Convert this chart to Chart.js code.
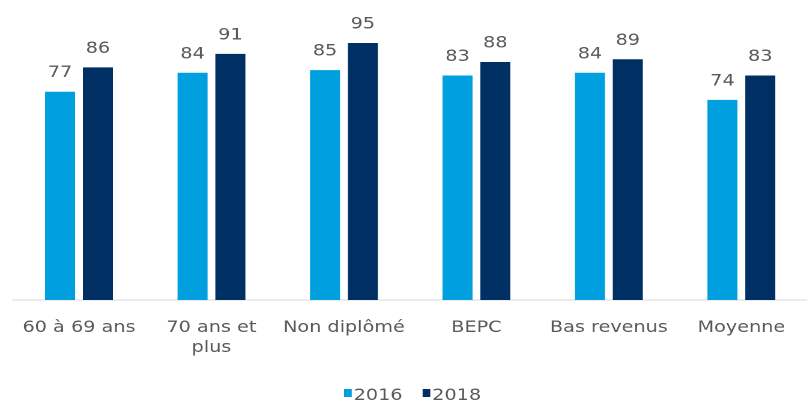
<!DOCTYPE html>
<html>
<head>
<meta charset="utf-8">
<script src="https://cdn.jsdelivr.net/npm/chart.js@4"></script>
<style>
  html, body { margin: 0; padding: 0; background: #ffffff; overflow: hidden; }
  #wrap { position: absolute; left: 0; top: 0; width: 672.5px; height: 401px; transform: scaleX(1.2); transform-origin: 0 0; }
</style>
</head>
<body>
<div id="wrap"><canvas id="c"></canvas></div>
<script>
const categories = ['60 à 69 ans', ['70 ans et', 'plus'], 'Non diplômé', 'BEPC', 'Bas revenus', 'Moyenne'];
const seriesNames = ['2016', '2018'];
const values2016 = [77, 84, 85, 83, 84, 74];
const values2018 = [86, 91, 95, 88, 89, 83];
const seriesColors = ['#009fe0', '#003063'];

const FONT = 'DejaVu Sans';
const TEXT = '#595959';
Chart.defaults.font.family = FONT;

const valueLabels = {
  id: 'valueLabels',
  afterDatasetsDraw(chart) {
    const ctx = chart.ctx;
    ctx.save();
    ctx.font = '16px "' + FONT + '"';
    ctx.fillStyle = TEXT;
    ctx.textAlign = 'center';
    ctx.textBaseline = 'alphabetic';
    chart.data.datasets.forEach((ds, i) => {
      const meta = chart.getDatasetMeta(i);
      meta.data.forEach((el, j) => {
        ctx.fillText(String(ds.data[j]), el.x, el.y - 14.5);
      });
    });
    ctx.restore();
  }
};

const bottomLegend = {
  id: 'bottomLegend',
  afterDraw(chart) {
    const ctx = chart.ctx;
    const area = chart.chartArea;
    ctx.save();
    ctx.font = '16px "' + FONT + '"';
    ctx.textBaseline = 'alphabetic';
    ctx.textAlign = 'left';
    const boxW = 6.4, boxH = 8, gap = 1.6, spacing = 16.7;
    const items = chart.data.datasets.map(ds => ({ label: ds.label, color: ds.backgroundColor, w: ctx.measureText(ds.label).width }));
    let total = 0;
    items.forEach((it, i) => { total += boxW + gap + it.w + (i ? spacing : 0); });
    let x = (area.left + area.right) / 2 + 2 - total / 2;
    const baseY = 400;
    items.forEach((it) => {
      ctx.fillStyle = it.color;
      ctx.fillRect(x, baseY - 11, boxW, boxH);
      x += boxW + gap;
      ctx.fillStyle = TEXT;
      ctx.fillText(it.label, x, baseY);
      x += it.w + spacing;
    });
    ctx.restore();
  }
};

new Chart(document.getElementById('c'), {
  type: 'bar',
  data: {
    labels: categories,
    datasets: [
      { label: seriesNames[0], data: values2016, backgroundColor: seriesColors[0], categoryPercentage: 0.571, barPercentage: 0.794 },
      { label: seriesNames[1], data: values2018, backgroundColor: seriesColors[1], categoryPercentage: 0.571, barPercentage: 0.794 }
    ]
  },
  options: {
    responsive: true,
    maintainAspectRatio: false,
    devicePixelRatio: 2,
    animation: false,
    layout: { padding: { left: 8.75, right: -8.5, top: 29.5, bottom: 0 } },
    plugins: { legend: { display: false }, tooltip: { enabled: false } },
    scales: {
      y: { display: false, min: 0, max: 100 },
      x: {
        grid: { display: false, drawTicks: false },
        border: { display: true, color: '#d9d9d9', width: 1 },
        ticks: { color: TEXT, font: { size: 16, family: FONT, lineHeight: 1.25 }, padding: 18, maxRotation: 0, autoSkip: false },
        afterFit(scale) { scale.height = 101; }
      }
    }
  },
  plugins: [valueLabels, bottomLegend]
});
</script>
</body>
</html>
